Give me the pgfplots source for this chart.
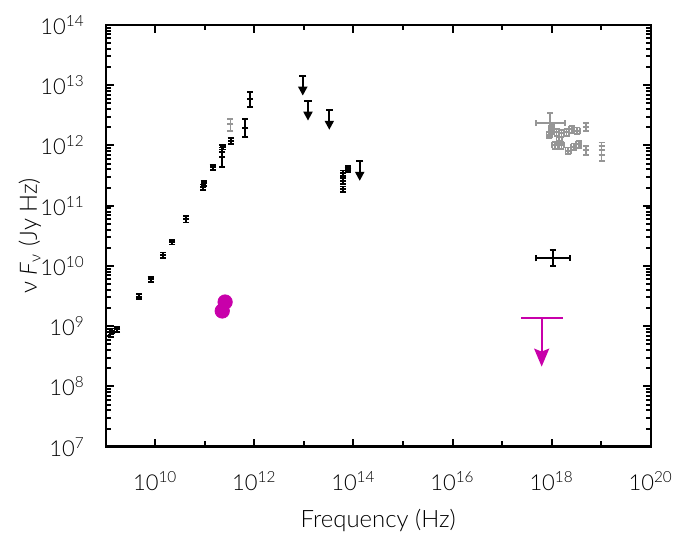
\documentclass[border=0pt]{standalone}
\usepackage{pgfplots}
\pgfplotsset{compat=1.18}
\usepackage{fontspec}
\setmainfont{Lato}[UprightFont=* Light, ItalicFont=* Light Italic]
\usetikzlibrary{arrows.meta}

\definecolor{dgray}{RGB}{150,150,150}
\definecolor{mag}{RGB}{200,0,170}

\pgfplotsset{
  det/.style={only marks, mark=-, mark size=1.5bp,
    mark options={line width=0.9bp},
    error bars/y dir=both, error bars/y explicit relative,
    error bars/error bar style={line width=0.9bp},
    error bars/error mark options={rotate=90, line width=0.9bp, mark size=1.5bp}},
  ulim/.style={only marks, mark=-, mark size=1.8bp,
    mark options={line width=1bp},
    error bars/y dir=minus, error bars/y explicit relative,
    error bars/error bar style={line width=1bp, -{Triangle[length=4.5bp,width=4.5bp]}},
    error bars/error mark=none},
}

\begin{document}
\begin{tikzpicture}
\begin{axis}[
  scale only axis,
  width=272.5bp, height=210.85bp,
  xmode=log, ymode=log,
  xmin=1e9, xmax=1e20, ymin=1e7, ymax=1e14,
  xtick={1e10,1e12,1e14,1e16,1e18,1e20},
  xticklabels={10\textsuperscript{10},10\textsuperscript{12},10\textsuperscript{14},10\textsuperscript{16},10\textsuperscript{18},10\textsuperscript{20}},
  minor xtick={1e9,1e11,1e13,1e15,1e17,1e19},
  ytick={1e7,1e8,1e9,1e10,1e11,1e12,1e13,1e14},
  yticklabels={10\textsuperscript{7},10\textsuperscript{8},10\textsuperscript{9},10\textsuperscript{10},10\textsuperscript{11},10\textsuperscript{12},10\textsuperscript{13},10\textsuperscript{14}},
  minor ytick={2e7,3e7,4e7,5e7,6e7,7e7,8e7,9e7,
               2e8,3e8,4e8,5e8,6e8,7e8,8e8,9e8,
               2e9,3e9,4e9,5e9,6e9,7e9,8e9,9e9,
               2e10,3e10,4e10,5e10,6e10,7e10,8e10,9e10,
               2e11,3e11,4e11,5e11,6e11,7e11,8e11,9e11,
               2e12,3e12,4e12,5e12,6e12,7e12,8e12,9e12,
               2e13,3e13,4e13,5e13,6e13,7e13,8e13,9e13},
  tick align=inside,
  major tick length=4bp, minor tick length=2.6bp,
  every tick/.style={black, line width=1bp},
  axis line style={line width=1.2bp},
  tick label style={font=\fontsize{11}{13}\selectfont},
  xticklabel style={yshift=-9bp},
  yticklabel style={xshift=-7bp},
  label style={font=\fontsize{12}{14}\selectfont},
  xlabel={Frequency (Hz)},
  ylabel={ν \textit{F}\textsubscript{ν} (Jy Hz)},
  xlabel style={at={(axis description cs:0.5,-0.174)}, anchor=center},
  ylabel style={at={(axis description cs:-0.139,0.5)}, anchor=center},
]
% radio to far-IR detections
\addplot[det, black] coordinates {
  (1.25e9,7.3e8) +- (0,0.09)
  (1.35e9,8.4e8) +- (0,0.09)
  (1.7e9,8.9e8) +- (0,0.09)
  (4.7e9,3.1e9) +- (0,0.1)
  (8.1e9,6.0e9) +- (0,0.1)
  (1.45e10,1.52e10) +- (0,0.1)
  (2.2e10,2.47e10) +- (0,0.08)
  (4.2e10,6.0e10) +- (0,0.12)
  (9.3e10,2.05e11) +- (0,0.1)
  (9.5e10,2.35e11) +- (0,0.1)
  (1.44e11,4.35e11) +- (0,0.09)
  (2.25e11,6.5e11) += (0,0.55) -= (0,0.32)
  (2.25e11,8.6e11) +- (0,0.08)
  (2.3e11,9.3e11) +- (0,0.08)
  (3.33e11,1.19e12) +- (0,0.12)
  (6.56e11,1.93e12) += (0,0.41) -= (0,0.29)
  (8.2e11,5.85e12) += (0,0.34) -= (0,0.25)
  (6.2e13,3.5e11) +- (0,0.1)
  (6.2e13,2.6e11) +- (0,0.12)
  (6.2e13,1.9e11) +- (0,0.1)
  (7.9e13,4.2e11) +- (0,0.08)
  (7.6e13,3.9e11) +- (0,0.07)
};
\addplot[det, dgray] coordinates {
  (3.3e11,2.25e12) +- (0,0.22)
};
% upper limits
\addplot[ulim, black] coordinates {
  (9.5e12,1.43e13) -= (0,0.53)
  (1.21e13,5.5e12) -= (0,0.53)
  (3.26e13,3.88e12) -= (0,0.53)
  (1.34e14,5.5e11) -= (0,0.53)
};
% X-ray (grey)
\addplot[det, dgray, error bars/x dir=both, error bars/x explicit relative] coordinates {
  (1.0e18,1.93e12) +- (0.12,0.13)
  (1.26e18,1.66e12) +- (0.12,0.13)
  (1.58e18,1.6e12) +- (0.12,0.13)
  (2.0e18,1.66e12) +- (0.12,0.13)
  (2.54e18,1.86e12) +- (0.12,0.13)
  (3.3e18,1.76e12) +- (0.12,0.13)
  (4.93e18,2.05e12) +- (0,0.14)
  (9.0e17,1.5e12) +- (0.12,0.13)
  (1.17e18,1.02e12) +- (0.12,0.13)
  (1.43e18,1.2e12) +- (0.12,0.13)
  (1.58e18,1.02e12) +- (0.12,0.13)
  (2.17e18,8.2e11) +- (0.12,0.13)
  (2.82e18,9.55e11) +- (0.12,0.13)
  (3.56e18,1.06e12) +- (0.12,0.13)
  (4.93e18,8.4e11) +- (0,0.16)
  (1.02e19,9.8e11) +- (0,0.14)
  (1.02e19,6.95e11) +- (0,0.2)
};
\addplot[det, dgray, error bars/x dir=both, error bars/x explicit, error bars/y explicit] coordinates {
  (9.3e17,2.34e12) += (9.3e17,1.1e12) -= (4.45e17,0.95e12)
};
% X-ray (black)
\addplot[det, black, error bars/x dir=both, error bars/x explicit, error bars/y explicit] coordinates {
  (1.05e18,1.34e10) += (1.29e18,0.5e10) -= (5.74e17,0.34e10)
};
% magenta
\addplot[only marks, mark=*, mark size=3.6bp, color=mag] coordinates {
  (2.57e11,2.52e9)
  (2.25e11,1.79e9)
};
\addplot[draw=none, mark=none, color=mag,
  error bars/x dir=both, error bars/x explicit, error bars/error mark=none,
  error bars/error bar style={line width=1bp}] coordinates {
  (6.3e17,1.35e9) += (1.04e18,0) -= (3.89e17,0)
};
\addplot[draw=none, mark=none, color=mag,
  error bars/y dir=minus, error bars/y explicit relative, error bars/error mark=none,
  error bars/error bar style={line width=1bp, -{Stealth[length=9bp,width=7.5bp,inset=1.5bp]}}] coordinates {
  (6.3e17,1.35e9) -= (0,0.842)
};
\end{axis}
\pgfresetboundingbox
\path[use as bounding box] ([shift={(-52.85bp,-44.15bp)}]current axis.south west) rectangle ++(337.5bp,267.5bp);
\end{tikzpicture}
\end{document}
